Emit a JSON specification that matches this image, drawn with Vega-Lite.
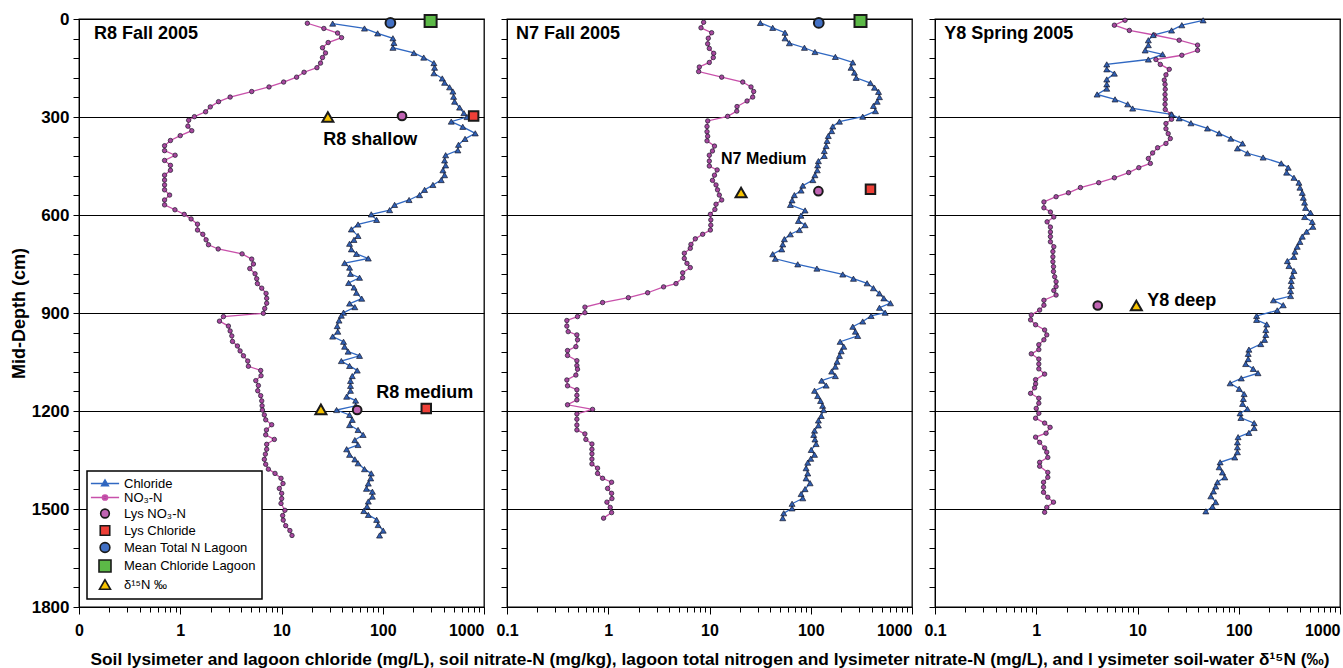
{
"$schema": "https://vega.github.io/schema/vega-lite/v6.json",
"background": "white",
"padding": {"left": 9, "top": 9, "right": 0, "bottom": 0},
"bounds": "flush",
"spacing": 23,
"config": {
  "font": "Liberation Sans",
  "view": {"stroke": "#000", "strokeWidth": 1.3},
  "axis": {"labelFont": "Liberation Sans", "titleFont": "Liberation Sans", "labelColor": "#000", "titleColor": "#000", "tickColor": "#000", "domainColor": "#000"},
  "legend": {"strokeWidth": 1.5}
},
"resolve": {"scale": {"shape": "independent", "fill": "independent", "size": "independent", "stroke": "independent"}},
"datasets": {
"lab": [
{"p":1,"t":"R8 Fall 2005","v":0.1406,"d":46},
{"p":1,"t":"R8 shallow","v":25.9,"d":370},
{"p":1,"t":"R8 medium","v":86.3,"d":1145},
{"p":2,"t":"N7 Fall 2005","v":0.1227,"d":46},
{"p":2,"t":"N7 Medium","v":13.0,"d":429},
{"p":3,"t":"Y8 Spring 2005","v":0.1236,"d":46},
{"p":3,"t":"Y8 deep","v":12.5,"d":863}
],
"pts": [
{"p":1,"s":"N","d":13,"v":18.0},{"p":1,"s":"N","d":29,"v":26.2},{"p":1,"s":"N","d":43,"v":35.8},{"p":1,"s":"N","d":57,"v":39.2},{"p":1,"s":"N","d":72,"v":28.9},{"p":1,"s":"N","d":88,"v":25.4},{"p":1,"s":"N","d":104,"v":27.2},{"p":1,"s":"N","d":118,"v":25.4},{"p":1,"s":"N","d":135,"v":24.3},{"p":1,"s":"N","d":149,"v":22.4},
{"p":1,"s":"N","d":163,"v":16.7},{"p":1,"s":"N","d":178,"v":14.1},{"p":1,"s":"N","d":193,"v":10.5},{"p":1,"s":"N","d":208,"v":7.53},{"p":1,"s":"N","d":222,"v":5.08},{"p":1,"s":"N","d":239,"v":3.11},{"p":1,"s":"N","d":253,"v":2.39},{"p":1,"s":"N","d":269,"v":1.98},{"p":1,"s":"N","d":284,"v":1.78},{"p":1,"s":"N","d":299,"v":1.38},
{"p":1,"s":"N","d":310,"v":1.21},{"p":1,"s":"N","d":328,"v":1.19},{"p":1,"s":"N","d":342,"v":1.30},{"p":1,"s":"N","d":357,"v":1.0},{"p":1,"s":"N","d":372,"v":0.80},{"p":1,"s":"N","d":388,"v":0.70},{"p":1,"s":"N","d":403,"v":0.70},{"p":1,"s":"N","d":417,"v":0.89},{"p":1,"s":"N","d":433,"v":0.70},{"p":1,"s":"N","d":448,"v":0.80},
{"p":1,"s":"N","d":463,"v":0.80},{"p":1,"s":"N","d":478,"v":0.70},{"p":1,"s":"N","d":493,"v":0.70},{"p":1,"s":"N","d":508,"v":0.70},{"p":1,"s":"N","d":523,"v":0.70},{"p":1,"s":"N","d":539,"v":0.785},{"p":1,"s":"N","d":554,"v":0.70},{"p":1,"s":"N","d":569,"v":0.70},{"p":1,"s":"N","d":584,"v":0.886},{"p":1,"s":"N","d":598,"v":1.095},
{"p":1,"s":"N","d":612,"v":1.28},{"p":1,"s":"N","d":628,"v":1.48},{"p":1,"s":"N","d":646,"v":1.48},{"p":1,"s":"N","d":659,"v":1.67},{"p":1,"s":"N","d":676,"v":1.80},{"p":1,"s":"N","d":691,"v":1.90},{"p":1,"s":"N","d":704,"v":2.37},{"p":1,"s":"N","d":719,"v":4.08},{"p":1,"s":"N","d":735,"v":5.08},{"p":1,"s":"N","d":750,"v":5.28},
{"p":1,"s":"N","d":764,"v":4.86},{"p":1,"s":"N","d":780,"v":5.48},{"p":1,"s":"N","d":795,"v":5.69},{"p":1,"s":"N","d":810,"v":5.78},{"p":1,"s":"N","d":824,"v":6.38},{"p":1,"s":"N","d":840,"v":7.04},{"p":1,"s":"N","d":855,"v":7.14},{"p":1,"s":"N","d":870,"v":7.14},{"p":1,"s":"N","d":886,"v":6.83},{"p":1,"s":"N","d":901,"v":6.62},
{"p":1,"s":"N","d":911,"v":2.67},{"p":1,"s":"N","d":925,"v":2.44},{"p":1,"s":"N","d":940,"v":2.99},{"p":1,"s":"N","d":955,"v":3.11},{"p":1,"s":"N","d":970,"v":3.23},{"p":1,"s":"N","d":987,"v":3.28},{"p":1,"s":"N","d":1001,"v":3.67},{"p":1,"s":"N","d":1016,"v":3.90},{"p":1,"s":"N","d":1031,"v":4.21},{"p":1,"s":"N","d":1047,"v":4.64},
{"p":1,"s":"N","d":1063,"v":4.71},{"p":1,"s":"N","d":1076,"v":6.23},{"p":1,"s":"N","d":1092,"v":6.28},{"p":1,"s":"N","d":1107,"v":5.57},{"p":1,"s":"N","d":1122,"v":5.91},{"p":1,"s":"N","d":1138,"v":5.82},{"p":1,"s":"N","d":1153,"v":6.23},{"p":1,"s":"N","d":1169,"v":6.38},{"p":1,"s":"N","d":1184,"v":6.43},{"p":1,"s":"N","d":1197,"v":6.48},
{"p":1,"s":"N","d":1212,"v":6.77},{"p":1,"s":"N","d":1227,"v":6.98},{"p":1,"s":"N","d":1242,"v":8.00},{"p":1,"s":"N","d":1258,"v":7.10},{"p":1,"s":"N","d":1273,"v":6.98},{"p":1,"s":"N","d":1287,"v":8.50},{"p":1,"s":"N","d":1302,"v":7.14},{"p":1,"s":"N","d":1317,"v":7.14},{"p":1,"s":"N","d":1332,"v":6.93},{"p":1,"s":"N","d":1348,"v":6.77},
{"p":1,"s":"N","d":1363,"v":6.98},{"p":1,"s":"N","d":1378,"v":7.42},{"p":1,"s":"N","d":1391,"v":8.63},{"p":1,"s":"N","d":1406,"v":9.89},{"p":1,"s":"N","d":1422,"v":10.35},{"p":1,"s":"N","d":1437,"v":9.52},{"p":1,"s":"N","d":1452,"v":10.04},{"p":1,"s":"N","d":1468,"v":10.04},{"p":1,"s":"N","d":1483,"v":9.89},{"p":1,"s":"N","d":1504,"v":10.8},
{"p":1,"s":"N","d":1520,"v":10.27},{"p":1,"s":"N","d":1534,"v":10.4},{"p":1,"s":"N","d":1551,"v":11.0},{"p":1,"s":"N","d":1566,"v":12.1},{"p":1,"s":"N","d":1581,"v":12.7},
{"p":1,"s":"Cl","d":14,"v":32},{"p":1,"s":"Cl","d":29,"v":66},{"p":1,"s":"Cl","d":44,"v":89},{"p":1,"s":"Cl","d":59,"v":126},{"p":1,"s":"Cl","d":73,"v":129},{"p":1,"s":"Cl","d":88,"v":126},{"p":1,"s":"Cl","d":104,"v":203},{"p":1,"s":"Cl","d":118,"v":254},{"p":1,"s":"Cl","d":135,"v":320},{"p":1,"s":"Cl","d":149,"v":325},
{"p":1,"s":"Cl","d":166,"v":320},{"p":1,"s":"Cl","d":182,"v":387},{"p":1,"s":"Cl","d":195,"v":408},{"p":1,"s":"Cl","d":209,"v":457},{"p":1,"s":"Cl","d":222,"v":493},{"p":1,"s":"Cl","d":238,"v":501},{"p":1,"s":"Cl","d":253,"v":512},{"p":1,"s":"Cl","d":271,"v":574},{"p":1,"s":"Cl","d":288,"v":633},{"p":1,"s":"Cl","d":300,"v":680},
{"p":1,"s":"Cl","d":314,"v":475},{"p":1,"s":"Cl","d":330,"v":617},{"p":1,"s":"Cl","d":350,"v":820},{"p":1,"s":"Cl","d":367,"v":650},{"p":1,"s":"Cl","d":385,"v":560},{"p":1,"s":"Cl","d":402,"v":552},{"p":1,"s":"Cl","d":417,"v":418},{"p":1,"s":"Cl","d":433,"v":408},{"p":1,"s":"Cl","d":448,"v":418},{"p":1,"s":"Cl","d":463,"v":393},
{"p":1,"s":"Cl","d":478,"v":408},{"p":1,"s":"Cl","d":493,"v":378},{"p":1,"s":"Cl","d":508,"v":313},{"p":1,"s":"Cl","d":523,"v":259},{"p":1,"s":"Cl","d":539,"v":231},{"p":1,"s":"Cl","d":554,"v":182},{"p":1,"s":"Cl","d":569,"v":131},{"p":1,"s":"Cl","d":585,"v":117},{"p":1,"s":"Cl","d":598,"v":77},{"p":1,"s":"Cl","d":615,"v":87},
{"p":1,"s":"Cl","d":629,"v":57},{"p":1,"s":"Cl","d":644,"v":49},{"p":1,"s":"Cl","d":664,"v":57},{"p":1,"s":"Cl","d":676,"v":52},{"p":1,"s":"Cl","d":688,"v":47},{"p":1,"s":"Cl","d":705,"v":49},{"p":1,"s":"Cl","d":719,"v":55},{"p":1,"s":"Cl","d":733,"v":72},{"p":1,"s":"Cl","d":747,"v":42},{"p":1,"s":"Cl","d":761,"v":47},
{"p":1,"s":"Cl","d":780,"v":48},{"p":1,"s":"Cl","d":792,"v":59},{"p":1,"s":"Cl","d":808,"v":46},{"p":1,"s":"Cl","d":822,"v":52},{"p":1,"s":"Cl","d":838,"v":55},{"p":1,"s":"Cl","d":856,"v":62},{"p":1,"s":"Cl","d":871,"v":47},{"p":1,"s":"Cl","d":882,"v":53},{"p":1,"s":"Cl","d":899,"v":41},{"p":1,"s":"Cl","d":908,"v":39},
{"p":1,"s":"Cl","d":923,"v":37},{"p":1,"s":"Cl","d":940,"v":35.5},{"p":1,"s":"Cl","d":957,"v":36},{"p":1,"s":"Cl","d":972,"v":32},{"p":1,"s":"Cl","d":988,"v":41},{"p":1,"s":"Cl","d":1003,"v":42},{"p":1,"s":"Cl","d":1018,"v":45.5},{"p":1,"s":"Cl","d":1031,"v":59},{"p":1,"s":"Cl","d":1047,"v":39},{"p":1,"s":"Cl","d":1062,"v":47},
{"p":1,"s":"Cl","d":1076,"v":56},{"p":1,"s":"Cl","d":1093,"v":50},{"p":1,"s":"Cl","d":1108,"v":48},{"p":1,"s":"Cl","d":1123,"v":48},{"p":1,"s":"Cl","d":1138,"v":48},{"p":1,"s":"Cl","d":1156,"v":44},{"p":1,"s":"Cl","d":1168,"v":54},{"p":1,"s":"Cl","d":1184,"v":54},{"p":1,"s":"Cl","d":1197,"v":35},{"p":1,"s":"Cl","d":1212,"v":47},
{"p":1,"s":"Cl","d":1227,"v":50},{"p":1,"s":"Cl","d":1243,"v":47},{"p":1,"s":"Cl","d":1258,"v":57},{"p":1,"s":"Cl","d":1273,"v":64},{"p":1,"s":"Cl","d":1289,"v":53},{"p":1,"s":"Cl","d":1304,"v":57},{"p":1,"s":"Cl","d":1317,"v":44},{"p":1,"s":"Cl","d":1334,"v":47},{"p":1,"s":"Cl","d":1348,"v":53},{"p":1,"s":"Cl","d":1360,"v":57},
{"p":1,"s":"Cl","d":1378,"v":66},{"p":1,"s":"Cl","d":1391,"v":77},{"p":1,"s":"Cl","d":1406,"v":76},{"p":1,"s":"Cl","d":1422,"v":72},{"p":1,"s":"Cl","d":1438,"v":69},{"p":1,"s":"Cl","d":1447,"v":79},{"p":1,"s":"Cl","d":1462,"v":79},{"p":1,"s":"Cl","d":1477,"v":72},{"p":1,"s":"Cl","d":1492,"v":70},{"p":1,"s":"Cl","d":1506,"v":65},
{"p":1,"s":"Cl","d":1518,"v":72},{"p":1,"s":"Cl","d":1533,"v":87},{"p":1,"s":"Cl","d":1549,"v":90},{"p":1,"s":"Cl","d":1566,"v":101},{"p":1,"s":"Cl","d":1581,"v":93},
{"p":1,"s":"MN","d":12,"v":119},{"p":1,"s":"MC","d":6,"v":297},{"p":1,"s":"D","d":300,"v":28.7},{"p":1,"s":"LN","d":297,"v":155},{"p":1,"s":"LC","d":297,"v":790},{"p":1,"s":"D","d":1195,"v":24.5},{"p":1,"s":"LN","d":1197,"v":55.9},{"p":1,"s":"LC","d":1192,"v":269},
{"p":2,"s":"N","d":10,"v":8.75},{"p":2,"s":"N","d":27,"v":8.24},{"p":2,"s":"N","d":42,"v":10.5},{"p":2,"s":"N","d":59,"v":9.73},{"p":2,"s":"N","d":76,"v":9.59},{"p":2,"s":"N","d":90,"v":9.96},{"p":2,"s":"N","d":105,"v":11.0},{"p":2,"s":"N","d":118,"v":10.9},{"p":2,"s":"N","d":133,"v":9.96},{"p":2,"s":"N","d":147,"v":7.93},
{"p":2,"s":"N","d":161,"v":7.81},{"p":2,"s":"N","d":178,"v":13.2},{"p":2,"s":"N","d":193,"v":21.3},{"p":2,"s":"N","d":208,"v":25.7},{"p":2,"s":"N","d":222,"v":27.3},{"p":2,"s":"N","d":239,"v":26.7},{"p":2,"s":"N","d":251,"v":23.5},{"p":2,"s":"N","d":268,"v":18.7},{"p":2,"s":"N","d":282,"v":18.6},{"p":2,"s":"N","d":298,"v":15.1},
{"p":2,"s":"N","d":312,"v":9.6},{"p":2,"s":"N","d":329,"v":9.45},{"p":2,"s":"N","d":345,"v":9.45},{"p":2,"s":"N","d":359,"v":9.59},{"p":2,"s":"N","d":373,"v":9.45},{"p":2,"s":"N","d":389,"v":11.2},{"p":2,"s":"N","d":404,"v":10.7},{"p":2,"s":"N","d":417,"v":9.96},{"p":2,"s":"N","d":435,"v":9.96},{"p":2,"s":"N","d":450,"v":9.96},
{"p":2,"s":"N","d":462,"v":11.9},{"p":2,"s":"N","d":478,"v":11.2},{"p":2,"s":"N","d":494,"v":10.7},{"p":2,"s":"N","d":508,"v":11.6},{"p":2,"s":"N","d":523,"v":12.0},{"p":2,"s":"N","d":539,"v":12.5},{"p":2,"s":"N","d":554,"v":13.2},{"p":2,"s":"N","d":567,"v":11.6},{"p":2,"s":"N","d":583,"v":11.3},{"p":2,"s":"N","d":598,"v":10.2},
{"p":2,"s":"N","d":615,"v":10.3},{"p":2,"s":"N","d":631,"v":10.3},{"p":2,"s":"N","d":646,"v":10.2},{"p":2,"s":"N","d":659,"v":8.56},{"p":2,"s":"N","d":673,"v":7.24},{"p":2,"s":"N","d":690,"v":6.56},{"p":2,"s":"N","d":702,"v":6.46},{"p":2,"s":"N","d":717,"v":5.64},{"p":2,"s":"N","d":733,"v":5.64},{"p":2,"s":"N","d":748,"v":5.99},
{"p":2,"s":"N","d":761,"v":6.46},{"p":2,"s":"N","d":777,"v":5.43},{"p":2,"s":"N","d":792,"v":5.43},{"p":2,"s":"N","d":810,"v":4.67},{"p":2,"s":"N","d":820,"v":3.52},{"p":2,"s":"N","d":838,"v":2.45},{"p":2,"s":"N","d":853,"v":1.58},{"p":2,"s":"N","d":868,"v":0.879},{"p":2,"s":"N","d":882,"v":0.588},{"p":2,"s":"N","d":899,"v":0.588},
{"p":2,"s":"N","d":911,"v":0.497},{"p":2,"s":"N","d":923,"v":0.390},{"p":2,"s":"N","d":940,"v":0.390},{"p":2,"s":"N","d":957,"v":0.402},{"p":2,"s":"N","d":967,"v":0.490},{"p":2,"s":"N","d":982,"v":0.497},{"p":2,"s":"N","d":1003,"v":0.479},{"p":2,"s":"N","d":1015,"v":0.396},{"p":2,"s":"N","d":1030,"v":0.396},{"p":2,"s":"N","d":1046,"v":0.490},
{"p":2,"s":"N","d":1061,"v":0.490},{"p":2,"s":"N","d":1072,"v":0.497},{"p":2,"s":"N","d":1090,"v":0.479},{"p":2,"s":"N","d":1105,"v":0.390},{"p":2,"s":"N","d":1123,"v":0.396},{"p":2,"s":"N","d":1135,"v":0.490},{"p":2,"s":"N","d":1152,"v":0.490},{"p":2,"s":"N","d":1166,"v":0.490},{"p":2,"s":"N","d":1181,"v":0.396},{"p":2,"s":"N","d":1195,"v":0.70},
{"p":2,"s":"N","d":1209,"v":0.490},{"p":2,"s":"N","d":1225,"v":0.490},{"p":2,"s":"N","d":1243,"v":0.490},{"p":2,"s":"N","d":1258,"v":0.490},{"p":2,"s":"N","d":1270,"v":0.588},{"p":2,"s":"N","d":1287,"v":0.601},{"p":2,"s":"N","d":1301,"v":0.690},{"p":2,"s":"N","d":1317,"v":0.690},{"p":2,"s":"N","d":1331,"v":0.690},{"p":2,"s":"N","d":1347,"v":0.690},
{"p":2,"s":"N","d":1362,"v":0.690},{"p":2,"s":"N","d":1375,"v":0.784},{"p":2,"s":"N","d":1391,"v":0.784},{"p":2,"s":"N","d":1406,"v":0.879},{"p":2,"s":"N","d":1418,"v":1.079},{"p":2,"s":"N","d":1437,"v":0.985},{"p":2,"s":"N","d":1452,"v":1.079},{"p":2,"s":"N","d":1468,"v":1.087},{"p":2,"s":"N","d":1479,"v":0.97},{"p":2,"s":"N","d":1495,"v":1.046},
{"p":2,"s":"N","d":1511,"v":1.079},{"p":2,"s":"N","d":1528,"v":0.899},
{"p":2,"s":"Cl","d":12,"v":31.8},{"p":2,"s":"Cl","d":27,"v":42.1},{"p":2,"s":"Cl","d":42,"v":55.7},{"p":2,"s":"Cl","d":59,"v":55.7},{"p":2,"s":"Cl","d":74,"v":61.5},{"p":2,"s":"Cl","d":88,"v":86.6},{"p":2,"s":"Cl","d":101,"v":110},{"p":2,"s":"Cl","d":116,"v":175},{"p":2,"s":"Cl","d":133,"v":260},{"p":2,"s":"Cl","d":149,"v":250},
{"p":2,"s":"Cl","d":164,"v":270},{"p":2,"s":"Cl","d":180,"v":281},{"p":2,"s":"Cl","d":196,"v":389},{"p":2,"s":"Cl","d":210,"v":426},{"p":2,"s":"Cl","d":223,"v":467},{"p":2,"s":"Cl","d":239,"v":477},{"p":2,"s":"Cl","d":253,"v":453},{"p":2,"s":"Cl","d":266,"v":416},{"p":2,"s":"Cl","d":282,"v":436},{"p":2,"s":"Cl","d":299,"v":326},
{"p":2,"s":"Cl","d":314,"v":192},{"p":2,"s":"Cl","d":329,"v":165},{"p":2,"s":"Cl","d":343,"v":161},{"p":2,"s":"Cl","d":358,"v":149},{"p":2,"s":"Cl","d":373,"v":145},{"p":2,"s":"Cl","d":389,"v":142},{"p":2,"s":"Cl","d":404,"v":136},{"p":2,"s":"Cl","d":419,"v":136},{"p":2,"s":"Cl","d":435,"v":119},{"p":2,"s":"Cl","d":448,"v":117},
{"p":2,"s":"Cl","d":463,"v":116},{"p":2,"s":"Cl","d":478,"v":110},{"p":2,"s":"Cl","d":493,"v":105},{"p":2,"s":"Cl","d":510,"v":83.4},{"p":2,"s":"Cl","d":525,"v":80.3},{"p":2,"s":"Cl","d":539,"v":68.9},{"p":2,"s":"Cl","d":555,"v":65.4},{"p":2,"s":"Cl","d":569,"v":62.9},{"p":2,"s":"Cl","d":586,"v":87.9},{"p":2,"s":"Cl","d":602,"v":80},
{"p":2,"s":"Cl","d":618,"v":75.5},{"p":2,"s":"Cl","d":631,"v":87.9},{"p":2,"s":"Cl","d":646,"v":77.3},{"p":2,"s":"Cl","d":659,"v":62.9},{"p":2,"s":"Cl","d":674,"v":54.9},{"p":2,"s":"Cl","d":690,"v":52.9},{"p":2,"s":"Cl","d":705,"v":51.7},{"p":2,"s":"Cl","d":720,"v":42.1},{"p":2,"s":"Cl","d":734,"v":44.7},{"p":2,"s":"Cl","d":751,"v":74.4},
{"p":2,"s":"Cl","d":764,"v":115},{"p":2,"s":"Cl","d":782,"v":207},{"p":2,"s":"Cl","d":795,"v":264},{"p":2,"s":"Cl","d":809,"v":360},{"p":2,"s":"Cl","d":824,"v":416},{"p":2,"s":"Cl","d":840,"v":477},{"p":2,"s":"Cl","d":855,"v":527},{"p":2,"s":"Cl","d":870,"v":613},{"p":2,"s":"Cl","d":884,"v":477},{"p":2,"s":"Cl","d":899,"v":543},
{"p":2,"s":"Cl","d":909,"v":395},{"p":2,"s":"Cl","d":926,"v":326},{"p":2,"s":"Cl","d":942,"v":260},{"p":2,"s":"Cl","d":957,"v":276},{"p":2,"s":"Cl","d":970,"v":291},{"p":2,"s":"Cl","d":988,"v":195},{"p":2,"s":"Cl","d":1003,"v":212},{"p":2,"s":"Cl","d":1017,"v":200},{"p":2,"s":"Cl","d":1031,"v":192},{"p":2,"s":"Cl","d":1049,"v":182},
{"p":2,"s":"Cl","d":1064,"v":175},{"p":2,"s":"Cl","d":1079,"v":161},{"p":2,"s":"Cl","d":1093,"v":175},{"p":2,"s":"Cl","d":1107,"v":128},{"p":2,"s":"Cl","d":1122,"v":142},{"p":2,"s":"Cl","d":1138,"v":109},{"p":2,"s":"Cl","d":1154,"v":117},{"p":2,"s":"Cl","d":1169,"v":125},{"p":2,"s":"Cl","d":1184,"v":131},{"p":2,"s":"Cl","d":1197,"v":134},
{"p":2,"s":"Cl","d":1215,"v":127},{"p":2,"s":"Cl","d":1229,"v":119},{"p":2,"s":"Cl","d":1244,"v":119},{"p":2,"s":"Cl","d":1260,"v":109},{"p":2,"s":"Cl","d":1273,"v":107},{"p":2,"s":"Cl","d":1287,"v":110},{"p":2,"s":"Cl","d":1301,"v":113},{"p":2,"s":"Cl","d":1319,"v":101},{"p":2,"s":"Cl","d":1334,"v":109},{"p":2,"s":"Cl","d":1346,"v":100},
{"p":2,"s":"Cl","d":1358,"v":93.4},{"p":2,"s":"Cl","d":1375,"v":89.9},{"p":2,"s":"Cl","d":1391,"v":93.4},{"p":2,"s":"Cl","d":1406,"v":89.9},{"p":2,"s":"Cl","d":1421,"v":98.5},{"p":2,"s":"Cl","d":1439,"v":87.9},{"p":2,"s":"Cl","d":1454,"v":80.3},{"p":2,"s":"Cl","d":1467,"v":83.4},{"p":2,"s":"Cl","d":1484,"v":65.4},{"p":2,"s":"Cl","d":1498,"v":65.4},
{"p":2,"s":"Cl","d":1513,"v":54.1},{"p":2,"s":"Cl","d":1528,"v":52.9},
{"p":2,"s":"MN","d":12,"v":120},{"p":2,"s":"MC","d":6,"v":310},{"p":2,"s":"D","d":531,"v":20.5},{"p":2,"s":"LN","d":527,"v":119},{"p":2,"s":"LC","d":521,"v":389},
{"p":3,"s":"N","d":4,"v":7.53},{"p":3,"s":"N","d":19,"v":5.91},{"p":3,"s":"N","d":35,"v":8.31},{"p":3,"s":"N","d":49,"v":14.6},{"p":3,"s":"N","d":65,"v":25.8},{"p":3,"s":"N","d":80,"v":39.2},{"p":3,"s":"N","d":96,"v":39.2},{"p":3,"s":"N","d":111,"v":27.4},{"p":3,"s":"N","d":124,"v":15.2},{"p":3,"s":"N","d":139,"v":16.8},
{"p":3,"s":"N","d":154,"v":20.6},{"p":3,"s":"N","d":171,"v":19.1},{"p":3,"s":"N","d":187,"v":18.4},{"p":3,"s":"N","d":200,"v":18.7},{"p":3,"s":"N","d":215,"v":18.8},{"p":3,"s":"N","d":231,"v":18.7},{"p":3,"s":"N","d":246,"v":18.8},{"p":3,"s":"N","d":261,"v":18.7},{"p":3,"s":"N","d":277,"v":18.8},{"p":3,"s":"N","d":292,"v":21.4},
{"p":3,"s":"N","d":307,"v":21.7},{"p":3,"s":"N","d":320,"v":19.1},{"p":3,"s":"N","d":336,"v":19.1},{"p":3,"s":"N","d":351,"v":20.1},{"p":3,"s":"N","d":366,"v":21.1},{"p":3,"s":"N","d":381,"v":19.1},{"p":3,"s":"N","d":394,"v":15.8},{"p":3,"s":"N","d":410,"v":14.1},{"p":3,"s":"N","d":427,"v":12.8},{"p":3,"s":"N","d":442,"v":13.4},
{"p":3,"s":"N","d":455,"v":10.3},{"p":3,"s":"N","d":470,"v":8.18},{"p":3,"s":"N","d":486,"v":5.91},{"p":3,"s":"N","d":501,"v":4.14},{"p":3,"s":"N","d":516,"v":2.73},{"p":3,"s":"N","d":532,"v":2.08},{"p":3,"s":"N","d":544,"v":1.57},{"p":3,"s":"N","d":560,"v":1.19},{"p":3,"s":"N","d":578,"v":1.19},{"p":3,"s":"N","d":591,"v":1.38},
{"p":3,"s":"N","d":606,"v":1.49},{"p":3,"s":"N","d":621,"v":1.28},{"p":3,"s":"N","d":637,"v":1.38},{"p":3,"s":"N","d":652,"v":1.38},{"p":3,"s":"N","d":666,"v":1.38},{"p":3,"s":"N","d":682,"v":1.38},{"p":3,"s":"N","d":697,"v":1.49},{"p":3,"s":"N","d":712,"v":1.46},{"p":3,"s":"N","d":728,"v":1.46},{"p":3,"s":"N","d":743,"v":1.46},
{"p":3,"s":"N","d":758,"v":1.48},{"p":3,"s":"N","d":773,"v":1.48},{"p":3,"s":"N","d":789,"v":1.52},{"p":3,"s":"N","d":804,"v":1.57},{"p":3,"s":"N","d":819,"v":1.57},{"p":3,"s":"N","d":831,"v":1.49},{"p":3,"s":"N","d":845,"v":1.57},{"p":3,"s":"N","d":861,"v":1.19},{"p":3,"s":"N","d":876,"v":1.19},{"p":3,"s":"N","d":891,"v":1.08},
{"p":3,"s":"N","d":906,"v":0.893},{"p":3,"s":"N","d":921,"v":0.879},{"p":3,"s":"N","d":936,"v":0.985},{"p":3,"s":"N","d":952,"v":1.21},{"p":3,"s":"N","d":967,"v":1.27},{"p":3,"s":"N","d":982,"v":1.19},{"p":3,"s":"N","d":997,"v":1.06},{"p":3,"s":"N","d":1012,"v":1.06},{"p":3,"s":"N","d":1025,"v":0.893},{"p":3,"s":"N","d":1041,"v":1.06},
{"p":3,"s":"N","d":1056,"v":1.06},{"p":3,"s":"N","d":1071,"v":1.06},{"p":3,"s":"N","d":1087,"v":1.21},{"p":3,"s":"N","d":1104,"v":0.985},{"p":3,"s":"N","d":1117,"v":0.985},{"p":3,"s":"N","d":1129,"v":0.963},{"p":3,"s":"N","d":1146,"v":0.879},{"p":3,"s":"N","d":1161,"v":1.06},{"p":3,"s":"N","d":1176,"v":1.06},{"p":3,"s":"N","d":1192,"v":1.0},
{"p":3,"s":"N","d":1207,"v":1.06},{"p":3,"s":"N","d":1222,"v":0.985},{"p":3,"s":"N","d":1237,"v":1.21},{"p":3,"s":"N","d":1250,"v":1.37},{"p":3,"s":"N","d":1268,"v":1.25},{"p":3,"s":"N","d":1280,"v":0.985},{"p":3,"s":"N","d":1296,"v":1.08},{"p":3,"s":"N","d":1313,"v":1.21},{"p":3,"s":"N","d":1326,"v":1.27},{"p":3,"s":"N","d":1342,"v":1.30},
{"p":3,"s":"N","d":1357,"v":1.08},{"p":3,"s":"N","d":1369,"v":1.08},{"p":3,"s":"N","d":1388,"v":1.30},{"p":3,"s":"N","d":1403,"v":1.30},{"p":3,"s":"N","d":1418,"v":1.18},{"p":3,"s":"N","d":1433,"v":1.18},{"p":3,"s":"N","d":1449,"v":1.18},{"p":3,"s":"N","d":1464,"v":1.30},{"p":3,"s":"N","d":1479,"v":1.48},{"p":3,"s":"N","d":1495,"v":1.27},
{"p":3,"s":"N","d":1510,"v":1.21},
{"p":3,"s":"Cl","d":4,"v":44.5},{"p":3,"s":"Cl","d":19,"v":27.4},{"p":3,"s":"Cl","d":35,"v":21.7},{"p":3,"s":"Cl","d":49,"v":14.3},{"p":3,"s":"Cl","d":65,"v":12.8},{"p":3,"s":"Cl","d":80,"v":12.8},{"p":3,"s":"Cl","d":96,"v":11.9},{"p":3,"s":"Cl","d":108,"v":17.7},{"p":3,"s":"Cl","d":124,"v":12.8},{"p":3,"s":"Cl","d":139,"v":4.97},
{"p":3,"s":"Cl","d":154,"v":4.97},{"p":3,"s":"Cl","d":167,"v":5.91},{"p":3,"s":"Cl","d":185,"v":4.97},{"p":3,"s":"Cl","d":200,"v":4.97},{"p":3,"s":"Cl","d":213,"v":4.97},{"p":3,"s":"Cl","d":231,"v":3.99},{"p":3,"s":"Cl","d":246,"v":6.0},{"p":3,"s":"Cl","d":261,"v":8.0},{"p":3,"s":"Cl","d":274,"v":8.96},{"p":3,"s":"Cl","d":292,"v":21.7},
{"p":3,"s":"Cl","d":304,"v":25.8},{"p":3,"s":"Cl","d":319,"v":33.7},{"p":3,"s":"Cl","d":335,"v":49.1},{"p":3,"s":"Cl","d":350,"v":64},{"p":3,"s":"Cl","d":366,"v":83.4},{"p":3,"s":"Cl","d":381,"v":109},{"p":3,"s":"Cl","d":396,"v":97},{"p":3,"s":"Cl","d":411,"v":122},{"p":3,"s":"Cl","d":424,"v":174},{"p":3,"s":"Cl","d":442,"v":263},
{"p":3,"s":"Cl","d":455,"v":308},{"p":3,"s":"Cl","d":470,"v":297},{"p":3,"s":"Cl","d":486,"v":351},{"p":3,"s":"Cl","d":501,"v":393},{"p":3,"s":"Cl","d":516,"v":402},{"p":3,"s":"Cl","d":532,"v":424},{"p":3,"s":"Cl","d":547,"v":434},{"p":3,"s":"Cl","d":562,"v":447},{"p":3,"s":"Cl","d":578,"v":457},{"p":3,"s":"Cl","d":593,"v":512},
{"p":3,"s":"Cl","d":606,"v":447},{"p":3,"s":"Cl","d":621,"v":532},{"p":3,"s":"Cl","d":636,"v":540},{"p":3,"s":"Cl","d":651,"v":468},{"p":3,"s":"Cl","d":666,"v":424},{"p":3,"s":"Cl","d":682,"v":402},{"p":3,"s":"Cl","d":697,"v":378},{"p":3,"s":"Cl","d":712,"v":359},{"p":3,"s":"Cl","d":728,"v":351},{"p":3,"s":"Cl","d":741,"v":302},
{"p":3,"s":"Cl","d":756,"v":313},{"p":3,"s":"Cl","d":771,"v":351},{"p":3,"s":"Cl","d":787,"v":338},{"p":3,"s":"Cl","d":802,"v":330},{"p":3,"s":"Cl","d":817,"v":330},{"p":3,"s":"Cl","d":833,"v":325},{"p":3,"s":"Cl","d":848,"v":325},{"p":3,"s":"Cl","d":861,"v":220},{"p":3,"s":"Cl","d":876,"v":275},{"p":3,"s":"Cl","d":892,"v":240},
{"p":3,"s":"Cl","d":909,"v":150},{"p":3,"s":"Cl","d":921,"v":150},{"p":3,"s":"Cl","d":935,"v":189},{"p":3,"s":"Cl","d":952,"v":185},{"p":3,"s":"Cl","d":967,"v":185},{"p":3,"s":"Cl","d":982,"v":180},{"p":3,"s":"Cl","d":995,"v":165},{"p":3,"s":"Cl","d":1012,"v":126},{"p":3,"s":"Cl","d":1025,"v":124},{"p":3,"s":"Cl","d":1041,"v":124},
{"p":3,"s":"Cl","d":1056,"v":117},{"p":3,"s":"Cl","d":1071,"v":139},{"p":3,"s":"Cl","d":1084,"v":155},{"p":3,"s":"Cl","d":1100,"v":106},{"p":3,"s":"Cl","d":1115,"v":82.2},{"p":3,"s":"Cl","d":1132,"v":101},{"p":3,"s":"Cl","d":1148,"v":113},{"p":3,"s":"Cl","d":1163,"v":111},{"p":3,"s":"Cl","d":1178,"v":109},{"p":3,"s":"Cl","d":1194,"v":122},
{"p":3,"s":"Cl","d":1207,"v":103},{"p":3,"s":"Cl","d":1221,"v":105},{"p":3,"s":"Cl","d":1237,"v":142},{"p":3,"s":"Cl","d":1252,"v":142},{"p":3,"s":"Cl","d":1267,"v":126},{"p":3,"s":"Cl","d":1280,"v":98.5},{"p":3,"s":"Cl","d":1296,"v":97},{"p":3,"s":"Cl","d":1311,"v":97},{"p":3,"s":"Cl","d":1326,"v":97},{"p":3,"s":"Cl","d":1342,"v":91.3},
{"p":3,"s":"Cl","d":1357,"v":65.5},{"p":3,"s":"Cl","d":1372,"v":64},{"p":3,"s":"Cl","d":1388,"v":69},{"p":3,"s":"Cl","d":1403,"v":72.8},{"p":3,"s":"Cl","d":1418,"v":61.6},{"p":3,"s":"Cl","d":1431,"v":59.3},{"p":3,"s":"Cl","d":1446,"v":56.3},{"p":3,"s":"Cl","d":1461,"v":53},{"p":3,"s":"Cl","d":1479,"v":59.3},{"p":3,"s":"Cl","d":1493,"v":55},
{"p":3,"s":"Cl","d":1507,"v":47.3},
{"p":3,"s":"LN","d":877,"v":4.05},{"p":3,"s":"D","d":877,"v":9.74}
]
},
"hconcat": [
{
 "width": 405, "height": 588,
 "resolve": {"scale": {"shape": "independent", "fill": "independent", "size": "independent", "stroke": "independent"}},
 "encoding": {
  "x": {"field": "v", "type": "quantitative", "scale": {"type": "log", "domain": [0.1, 1000], "nice": false},
   "axis": {"values": [0.1,0.2,0.3,0.4,0.5,0.6,0.7,0.8,0.9,1,2,3,4,5,6,7,8,9,10,20,30,40,50,60,70,80,90,100,200,300,400,500,600,700,800,900,1000],
    "title": null, "grid": false,
    "labelExpr": "datum.value == 0.1 ? '0' : datum.value == 1 ? '1' : datum.value == 10 ? '10' : datum.value == 100 ? '100' : datum.value == 1000 ? '1000' : ''",
    "labelAlign": {"condition": {"test": "datum.value == 1000", "value": "right"}, "value": "center"},
    "labelFontSize": 16, "labelFontWeight": "bold", "labelPadding": 8, "labelFlush": false, "labelOverlap": false,
    "tickSize": {"condition": {"test": "datum.value == 0.1 || datum.value == 1 || datum.value == 10 || datum.value == 100 || datum.value == 1000", "value": 7}, "value": 5},
    "tickWidth": 1, "domainWidth": 1}},
  "y": {"field": "d", "type": "quantitative", "scale": {"domain": [0, 1800], "reverse": true, "nice": false, "zero": false},
   "axis": {"values": [0,60,120,180,240,300,360,420,480,540,600,660,720,780,840,900,960,1020,1080,1140,1200,1260,1320,1380,1440,1500,1560,1620,1680,1740,1800],
    "title": "Mid-Depth (cm)", "titleFontSize": 18, "titleFontWeight": "bold", "titlePadding": 3,
    "labelExpr": "datum.value % 300 === 0 ? datum.label : ''", "format": "d",
    "labelFontSize": 17, "labelFontWeight": "bold", "labelPadding": 4, "labelFlush": false, "labelOverlap": false,
    "grid": true, "gridColor": "#000", "gridWidth": 1,
    "gridOpacity": {"condition": {"test": "datum.value % 300 === 0", "value": 1}, "value": 0},
    "tickSize": 6, "tickWidth": 1, "domainWidth": 1}}
 },
 "layer": [
  {"data": {"name": "pts"}, "transform": [{"filter": "datum.p == 1 && datum.s == 'Cl'"}], "mark": {"type": "line", "color": "#3068c2", "strokeWidth": 1.3}, "encoding": {"order": {"field": "d", "type": "quantitative"}}},
  {"data": {"name": "pts"}, "transform": [{"filter": "datum.p == 1 && datum.s == 'N'"}], "mark": {"type": "line", "color": "#c850aa", "strokeWidth": 1.3}, "encoding": {"order": {"field": "d", "type": "quantitative"}}},
  {"data": {"name": "pts"}, "transform": [{"filter": "datum.p == 1 && (datum.s == 'Cl' || datum.s == 'N')"}],
   "mark": {"type": "point", "filled": true, "stroke": "#1a1a2a", "strokeWidth": 0.7, "opacity": 1},
   "encoding": {
    "shape": {"field": "s", "type": "nominal", "scale": {"domain": ["Cl","N","LN","LC","MN","MC","D"], "range": ["triangle-up","circle","circle","square","circle","square","triangle-up"]}, "legend": null},
    "fill": {"field": "s", "type": "nominal", "scale": {"domain": ["Cl","N","LN","LC","MN","MC","D"], "range": ["#2f5fb3","#a8479e","#c064b3","#ee3f37","#4270c4","#5cb947","#f7c300"]}, "legend": null},
    "size": {"field": "s", "type": "ordinal", "scale": {"type": "ordinal", "domain": ["Cl","N","LN","LC","MN","MC","D"], "range": [36,20,75,90,95,144,121]}, "legend": null}
   }},
  {"data": {"name": "pts"}, "transform": [{"filter": "datum.p == 1 && datum.s != 'Cl' && datum.s != 'N'"}],
   "mark": {"type": "point", "filled": true, "stroke": "#1a1a1a", "strokeWidth": 2, "opacity": 1},
   "encoding": {
    "shape": {"field": "s", "type": "nominal", "scale": {"domain": ["Cl","N","LN","LC","MN","MC","D"], "range": ["triangle-up","circle","circle","square","circle","square","triangle-up"]}, "legend": null},
    "fill": {"field": "s", "type": "nominal", "scale": {"domain": ["Cl","N","LN","LC","MN","MC","D"], "range": ["#2f5fb3","#a8479e","#c064b3","#ee3f37","#4270c4","#5cb947","#f7c300"]}, "legend": null},
    "size": {"field": "s", "type": "ordinal", "scale": {"type": "ordinal", "domain": ["Cl","N","LN","LC","MN","MC","D"], "range": [36,20,75,90,95,144,121]}, "legend": null}
   }},
  {"data": {"name": "pts"}, "transform": [{"filter": "datum.p == 1"}],
   "mark": {"type": "point", "filled": true, "opacity": 0},
   "encoding": {
    "shape": {"field": "s", "type": "nominal", "scale": {"domain": ["Cl","N","LN","LC","MN","MC","D"], "range": ["M-4.7,0H4.7M-1.1,0.75L0,-1.15L1.1,0.75Z","M-6.3,0H6.3M1.15,0A1.15,1.15 0 1,1 -1.15,0A1.15,1.15 0 1,1 1.15,0Z","circle","square","circle","square","triangle-up"]},
     "legend": {"title": null, "orient": "bottom-left", "offset": 8, "padding": 6, "strokeColor": "#000", "fillColor": "#fff", "labelFont": "Liberation Sans", "labelFontSize": 13, "labelColor": "#000", "labelOffset": 12, "symbolOffset": 5, "rowPadding": 0, "symbolOpacity": 1, "symbolStrokeWidth": 1.6,
      "labelExpr": "datum.value === 'Cl' ? 'Chloride' : datum.value === 'N' ? 'NO₃-N' : datum.value === 'LN' ? 'Lys NO₃-N' : datum.value === 'LC' ? 'Lys Chloride' : datum.value === 'MN' ? 'Mean Total N Lagoon' : datum.value === 'MC' ? 'Mean Chloride Lagoon' : 'δ¹⁵N ‰'"}},
    "fill": {"field": "s", "type": "nominal", "scale": {"domain": ["Cl","N","LN","LC","MN","MC","D"], "range": ["#2f5fb3","#a8479e","#c064b3","#ee3f37","#4270c4","#5cb947","#f7c300"]},
     "legend": {"title": null, "orient": "bottom-left", "offset": 8, "padding": 6, "strokeColor": "#000", "fillColor": "#fff", "labelFont": "Liberation Sans", "labelFontSize": 13, "labelColor": "#000", "labelOffset": 12, "symbolOffset": 5, "rowPadding": 0, "symbolOpacity": 1, "symbolStrokeWidth": 1.6,
      "labelExpr": "datum.value === 'Cl' ? 'Chloride' : datum.value === 'N' ? 'NO₃-N' : datum.value === 'LN' ? 'Lys NO₃-N' : datum.value === 'LC' ? 'Lys Chloride' : datum.value === 'MN' ? 'Mean Total N Lagoon' : datum.value === 'MC' ? 'Mean Chloride Lagoon' : 'δ¹⁵N ‰'"}},
    "stroke": {"field": "s", "type": "nominal", "scale": {"domain": ["Cl","N","LN","LC","MN","MC","D"], "range": ["#3068c2","#c850aa","#1a1a1a","#1a1a1a","#1a1a1a","#1a1a1a","#1a1a1a"]},
     "legend": {"title": null, "orient": "bottom-left", "offset": 8, "padding": 6, "strokeColor": "#000", "fillColor": "#fff", "labelFont": "Liberation Sans", "labelFontSize": 13, "labelColor": "#000", "labelOffset": 12, "symbolOffset": 5, "rowPadding": 0, "symbolOpacity": 1, "symbolStrokeWidth": 1.6,
      "labelExpr": "datum.value === 'Cl' ? 'Chloride' : datum.value === 'N' ? 'NO₃-N' : datum.value === 'LN' ? 'Lys NO₃-N' : datum.value === 'LC' ? 'Lys Chloride' : datum.value === 'MN' ? 'Mean Total N Lagoon' : datum.value === 'MC' ? 'Mean Chloride Lagoon' : 'δ¹⁵N ‰'"}},
    "size": {"field": "s", "type": "ordinal", "scale": {"type": "ordinal", "domain": ["Cl","N","LN","LC","MN","MC","D"], "range": [36,20,75,90,95,144,121]},
     "legend": {"title": null, "orient": "bottom-left", "offset": 8, "padding": 6, "strokeColor": "#000", "fillColor": "#fff", "labelFont": "Liberation Sans", "labelFontSize": 13, "labelColor": "#000", "labelOffset": 12, "symbolOffset": 5, "rowPadding": 0, "symbolOpacity": 1, "symbolStrokeWidth": 1.6,
      "labelExpr": "datum.value === 'Cl' ? 'Chloride' : datum.value === 'N' ? 'NO₃-N' : datum.value === 'LN' ? 'Lys NO₃-N' : datum.value === 'LC' ? 'Lys Chloride' : datum.value === 'MN' ? 'Mean Total N Lagoon' : datum.value === 'MC' ? 'Mean Chloride Lagoon' : 'δ¹⁵N ‰'"}}
   }},
  {"data": {"name": "lab"}, "transform": [{"filter": "datum.p == 1"}], "mark": {"type": "text", "align": "left", "baseline": "middle", "font": "Liberation Sans", "fontSize": 18, "fontWeight": "bold", "color": "#000"}, "encoding": {"text": {"field": "t"}}}
 ]
},
{
 "width": 405, "height": 588,
 "encoding": {
  "x": {"field": "v", "type": "quantitative", "scale": {"type": "log", "domain": [0.1, 1000], "nice": false},
   "axis": {"values": [0.1,0.2,0.3,0.4,0.5,0.6,0.7,0.8,0.9,1,2,3,4,5,6,7,8,9,10,20,30,40,50,60,70,80,90,100,200,300,400,500,600,700,800,900,1000],
    "title": "Soil lysimeter and lagoon chloride (mg/L),  soil nitrate-N (mg/kg), lagoon total nitrogen and lysimeter nitrate-N (mg/L), and l ysimeter soil-water δ¹⁵N (‰)",
    "titleFontSize": 17.3, "titleFontWeight": "bold", "titlePadding": 12,
    "grid": false,
    "labelExpr": "datum.value == 0.1 ? '0.1' : datum.value == 1 ? '1' : datum.value == 10 ? '10' : datum.value == 100 ? '100' : datum.value == 1000 ? '1000' : ''",
    "labelAlign": {"condition": {"test": "datum.value == 1000", "value": "right"}, "value": "center"},
    "labelFontSize": 16, "labelFontWeight": "bold", "labelPadding": 8, "labelFlush": false, "labelOverlap": false,
    "tickSize": {"condition": {"test": "datum.value == 0.1 || datum.value == 1 || datum.value == 10 || datum.value == 100 || datum.value == 1000", "value": 7}, "value": 5},
    "tickWidth": 1, "domainWidth": 1}},
  "y": {"field": "d", "type": "quantitative", "scale": {"domain": [0, 1800], "reverse": true, "nice": false, "zero": false},
   "axis": {"values": [0,60,120,180,240,300,360,420,480,540,600,660,720,780,840,900,960,1020,1080,1140,1200,1260,1320,1380,1440,1500,1560,1620,1680,1740,1800],
    "title": null, "labels": false,
    "grid": true, "gridColor": "#000", "gridWidth": 1,
    "gridOpacity": {"condition": {"test": "datum.value % 300 === 0", "value": 1}, "value": 0},
    "tickSize": 6, "tickWidth": 1, "domainWidth": 1}}
 },
 "layer": [
  {"data": {"name": "pts"}, "transform": [{"filter": "datum.p == 2 && datum.s == 'Cl'"}], "mark": {"type": "line", "color": "#3068c2", "strokeWidth": 1.3}, "encoding": {"order": {"field": "d", "type": "quantitative"}}},
  {"data": {"name": "pts"}, "transform": [{"filter": "datum.p == 2 && datum.s == 'N'"}], "mark": {"type": "line", "color": "#c850aa", "strokeWidth": 1.3}, "encoding": {"order": {"field": "d", "type": "quantitative"}}},
  {"data": {"name": "pts"}, "transform": [{"filter": "datum.p == 2 && (datum.s == 'Cl' || datum.s == 'N')"}],
   "mark": {"type": "point", "filled": true, "stroke": "#1a1a2a", "strokeWidth": 0.7, "opacity": 1},
   "encoding": {
    "shape": {"field": "s", "type": "nominal", "scale": {"domain": ["Cl","N","LN","LC","MN","MC","D"], "range": ["triangle-up","circle","circle","square","circle","square","triangle-up"]}, "legend": null},
    "fill": {"field": "s", "type": "nominal", "scale": {"domain": ["Cl","N","LN","LC","MN","MC","D"], "range": ["#2f5fb3","#a8479e","#c064b3","#ee3f37","#4270c4","#5cb947","#f7c300"]}, "legend": null},
    "size": {"field": "s", "type": "ordinal", "scale": {"type": "ordinal", "domain": ["Cl","N","LN","LC","MN","MC","D"], "range": [36,20,75,90,95,144,121]}, "legend": null}
   }},
  {"data": {"name": "pts"}, "transform": [{"filter": "datum.p == 2 && datum.s != 'Cl' && datum.s != 'N'"}],
   "mark": {"type": "point", "filled": true, "stroke": "#1a1a1a", "strokeWidth": 2, "opacity": 1},
   "encoding": {
    "shape": {"field": "s", "type": "nominal", "scale": {"domain": ["Cl","N","LN","LC","MN","MC","D"], "range": ["triangle-up","circle","circle","square","circle","square","triangle-up"]}, "legend": null},
    "fill": {"field": "s", "type": "nominal", "scale": {"domain": ["Cl","N","LN","LC","MN","MC","D"], "range": ["#2f5fb3","#a8479e","#c064b3","#ee3f37","#4270c4","#5cb947","#f7c300"]}, "legend": null},
    "size": {"field": "s", "type": "ordinal", "scale": {"type": "ordinal", "domain": ["Cl","N","LN","LC","MN","MC","D"], "range": [36,20,75,90,95,144,121]}, "legend": null}
   }},
  {"data": {"name": "lab"}, "transform": [{"filter": "datum.p == 2 && datum.t != 'N7 Medium'"}], "mark": {"type": "text", "align": "left", "baseline": "middle", "font": "Liberation Sans", "fontSize": 18, "fontWeight": "bold", "color": "#000"}, "encoding": {"text": {"field": "t"}}},
  {"data": {"name": "lab"}, "transform": [{"filter": "datum.p == 2 && datum.t == 'N7 Medium'"}], "mark": {"type": "text", "align": "left", "baseline": "middle", "font": "Liberation Sans", "fontSize": 16, "fontWeight": "bold", "color": "#000"}, "encoding": {"text": {"field": "t"}}}
 ]
},
{
 "width": 405, "height": 588,
 "encoding": {
  "x": {"field": "v", "type": "quantitative", "scale": {"type": "log", "domain": [0.1, 1000], "nice": false},
   "axis": {"values": [0.1,0.2,0.3,0.4,0.5,0.6,0.7,0.8,0.9,1,2,3,4,5,6,7,8,9,10,20,30,40,50,60,70,80,90,100,200,300,400,500,600,700,800,900,1000],
    "title": null, "grid": false,
    "labelExpr": "datum.value == 0.1 ? '0.1' : datum.value == 1 ? '1' : datum.value == 10 ? '10' : datum.value == 100 ? '100' : datum.value == 1000 ? '1000' : ''",
    "labelAlign": {"condition": {"test": "datum.value == 1000", "value": "right"}, "value": "center"},
    "labelFontSize": 16, "labelFontWeight": "bold", "labelPadding": 8, "labelFlush": false, "labelOverlap": false,
    "tickSize": {"condition": {"test": "datum.value == 0.1 || datum.value == 1 || datum.value == 10 || datum.value == 100 || datum.value == 1000", "value": 7}, "value": 5},
    "tickWidth": 1, "domainWidth": 1}},
  "y": {"field": "d", "type": "quantitative", "scale": {"domain": [0, 1800], "reverse": true, "nice": false, "zero": false},
   "axis": {"values": [0,60,120,180,240,300,360,420,480,540,600,660,720,780,840,900,960,1020,1080,1140,1200,1260,1320,1380,1440,1500,1560,1620,1680,1740,1800],
    "title": null, "labels": false,
    "grid": true, "gridColor": "#000", "gridWidth": 1,
    "gridOpacity": {"condition": {"test": "datum.value % 300 === 0", "value": 1}, "value": 0},
    "tickSize": 6, "tickWidth": 1, "domainWidth": 1}}
 },
 "layer": [
  {"data": {"name": "pts"}, "transform": [{"filter": "datum.p == 3 && datum.s == 'Cl'"}], "mark": {"type": "line", "color": "#3068c2", "strokeWidth": 1.3}, "encoding": {"order": {"field": "d", "type": "quantitative"}}},
  {"data": {"name": "pts"}, "transform": [{"filter": "datum.p == 3 && datum.s == 'N'"}], "mark": {"type": "line", "color": "#c850aa", "strokeWidth": 1.3}, "encoding": {"order": {"field": "d", "type": "quantitative"}}},
  {"data": {"name": "pts"}, "transform": [{"filter": "datum.p == 3 && (datum.s == 'Cl' || datum.s == 'N')"}],
   "mark": {"type": "point", "filled": true, "stroke": "#1a1a2a", "strokeWidth": 0.7, "opacity": 1},
   "encoding": {
    "shape": {"field": "s", "type": "nominal", "scale": {"domain": ["Cl","N","LN","LC","MN","MC","D"], "range": ["triangle-up","circle","circle","square","circle","square","triangle-up"]}, "legend": null},
    "fill": {"field": "s", "type": "nominal", "scale": {"domain": ["Cl","N","LN","LC","MN","MC","D"], "range": ["#2f5fb3","#a8479e","#c064b3","#ee3f37","#4270c4","#5cb947","#f7c300"]}, "legend": null},
    "size": {"field": "s", "type": "ordinal", "scale": {"type": "ordinal", "domain": ["Cl","N","LN","LC","MN","MC","D"], "range": [36,20,75,90,95,144,121]}, "legend": null}
   }},
  {"data": {"name": "pts"}, "transform": [{"filter": "datum.p == 3 && datum.s != 'Cl' && datum.s != 'N'"}],
   "mark": {"type": "point", "filled": true, "stroke": "#1a1a1a", "strokeWidth": 2, "opacity": 1},
   "encoding": {
    "shape": {"field": "s", "type": "nominal", "scale": {"domain": ["Cl","N","LN","LC","MN","MC","D"], "range": ["triangle-up","circle","circle","square","circle","square","triangle-up"]}, "legend": null},
    "fill": {"field": "s", "type": "nominal", "scale": {"domain": ["Cl","N","LN","LC","MN","MC","D"], "range": ["#2f5fb3","#a8479e","#c064b3","#ee3f37","#4270c4","#5cb947","#f7c300"]}, "legend": null},
    "size": {"field": "s", "type": "ordinal", "scale": {"type": "ordinal", "domain": ["Cl","N","LN","LC","MN","MC","D"], "range": [36,20,75,90,95,144,121]}, "legend": null}
   }},
  {"data": {"name": "lab"}, "transform": [{"filter": "datum.p == 3"}], "mark": {"type": "text", "align": "left", "baseline": "middle", "font": "Liberation Sans", "fontSize": 18, "fontWeight": "bold", "color": "#000"}, "encoding": {"text": {"field": "t"}}}
 ]
}
]
}
